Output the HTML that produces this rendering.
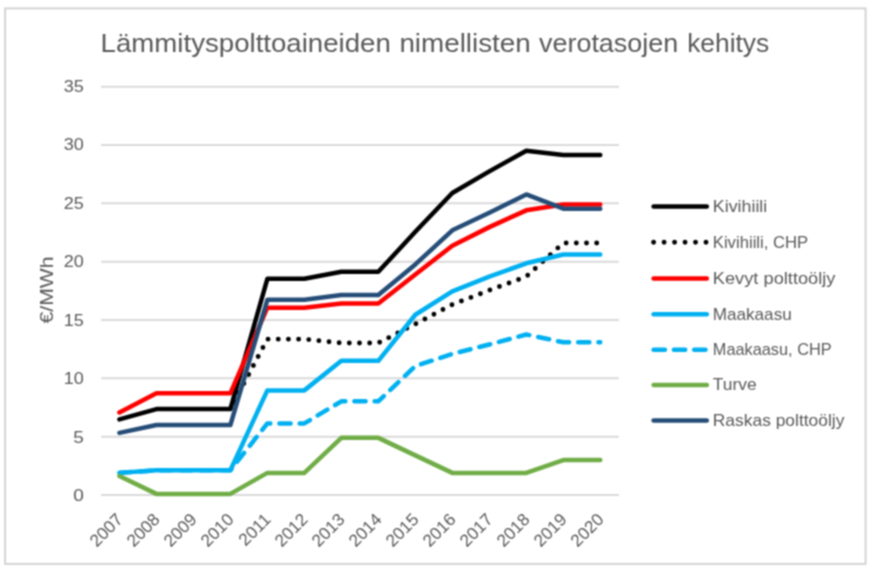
<!DOCTYPE html>
<html lang="fi"><head><meta charset="utf-8"><title>Lämmityspolttoaineiden nimellisten verotasojen kehitys</title>
<style>html,body{margin:0;padding:0;background:#fff}body{width:870px;height:570px;overflow:hidden}svg{display:block}text{font-family:"Liberation Sans",sans-serif;fill:#595959}</style></head><body>
<svg width="870" height="570" viewBox="0 0 870 570">
<defs><filter id="soft" x="0" y="0" width="870" height="570" filterUnits="userSpaceOnUse" color-interpolation-filters="sRGB"><feConvolveMatrix order="3" kernelMatrix="1 2 1 2 4 2 1 2 1" divisor="16" edgeMode="duplicate" preserveAlpha="true"/></filter></defs>
<g filter="url(#soft)">
<rect x="0" y="0" width="870" height="570" fill="#ffffff"/>
<rect x="5.1" y="8.4" width="860.5" height="555.5" fill="#ffffff" stroke="#d0d0d0" stroke-width="1.8"/>
<g stroke="#d9d9d9" stroke-width="2" fill="none">
<line x1="101.1" y1="495.05" x2="618.9" y2="495.05"/>
<line x1="101.1" y1="436.71" x2="618.9" y2="436.71"/>
<line x1="101.1" y1="378.36" x2="618.9" y2="378.36"/>
<line x1="101.1" y1="320.01" x2="618.9" y2="320.01"/>
<line x1="101.1" y1="261.67" x2="618.9" y2="261.67"/>
<line x1="101.1" y1="203.32" x2="618.9" y2="203.32"/>
<line x1="101.1" y1="144.98" x2="618.9" y2="144.98"/>
<line x1="101.1" y1="86.63" x2="618.9" y2="86.63"/>
</g>
<g font-size="25.2">
<text x="100.6" y="52.1" textLength="290.2" lengthAdjust="spacingAndGlyphs">Lämmityspolttoaineiden</text>
<text x="399.4" y="52.1" textLength="131.4" lengthAdjust="spacingAndGlyphs">nimellisten</text>
<text x="539" y="52.1" textLength="139.2" lengthAdjust="spacingAndGlyphs">verotasojen</text>
<text x="687.2" y="52.1" textLength="82.0" lengthAdjust="spacingAndGlyphs">kehitys</text>
</g>
<g font-size="17.2" text-anchor="end">
<text x="83.8" y="501.05" textLength="10.6" lengthAdjust="spacingAndGlyphs">0</text>
<text x="83.8" y="442.56" textLength="10.6" lengthAdjust="spacingAndGlyphs">5</text>
<text x="83.8" y="384.07" textLength="20.1" lengthAdjust="spacingAndGlyphs">10</text>
<text x="83.8" y="325.58" textLength="20.1" lengthAdjust="spacingAndGlyphs">15</text>
<text x="83.8" y="267.09" textLength="20.1" lengthAdjust="spacingAndGlyphs">20</text>
<text x="83.8" y="208.60" textLength="20.1" lengthAdjust="spacingAndGlyphs">25</text>
<text x="83.8" y="150.11" textLength="20.1" lengthAdjust="spacingAndGlyphs">30</text>
<text x="83.8" y="91.62" textLength="20.1" lengthAdjust="spacingAndGlyphs">35</text>
</g>
<text font-size="19" text-anchor="middle" transform="translate(53.4 290) rotate(-90)" textLength="67" lengthAdjust="spacingAndGlyphs">€/MWh</text>
<g font-size="17.2" text-anchor="end">
<text transform="translate(123.80 520.6) rotate(-45)">2007</text>
<text transform="translate(160.79 520.6) rotate(-45)">2008</text>
<text transform="translate(197.78 520.6) rotate(-45)">2009</text>
<text transform="translate(234.77 520.6) rotate(-45)">2010</text>
<text transform="translate(271.76 520.6) rotate(-45)">2011</text>
<text transform="translate(308.75 520.6) rotate(-45)">2012</text>
<text transform="translate(345.74 520.6) rotate(-45)">2013</text>
<text transform="translate(382.73 520.6) rotate(-45)">2014</text>
<text transform="translate(419.72 520.6) rotate(-45)">2015</text>
<text transform="translate(456.71 520.6) rotate(-45)">2016</text>
<text transform="translate(493.70 520.6) rotate(-45)">2017</text>
<text transform="translate(530.69 520.6) rotate(-45)">2018</text>
<text transform="translate(567.68 520.6) rotate(-45)">2019</text>
<text transform="translate(604.67 520.6) rotate(-45)">2020</text>
</g>
<g fill="none" stroke-width="4.5" stroke-linecap="round" stroke-linejoin="round">
<polyline points="119.40,419.43 156.39,409.05 193.38,409.05 230.37,409.05 267.36,278.82 304.35,278.82 341.34,271.82 378.33,271.82 415.32,231.80 452.31,192.94 489.30,171.35 526.29,150.70 563.28,155.02 600.27,155.02" stroke="#000000"/>
<polyline points="230.37,409.05 267.36,339.15 304.35,339.15 341.34,343.00 378.33,343.00 415.32,323.98 452.31,304.61 489.30,290.26 526.29,276.61 563.28,243.00 600.27,243.00" stroke="#000000" stroke-width="4.9" stroke-dasharray="0 10.18" stroke-dashoffset="1.65"/>
<polyline points="119.40,412.43 156.39,393.30 193.38,393.30 230.37,393.30 267.36,307.65 304.35,307.65 341.34,303.45 378.33,303.45 415.32,274.51 452.31,245.68 489.30,227.13 526.29,210.33 563.28,204.49 600.27,204.49" stroke="#FF0000"/>
<polyline points="119.40,472.88 156.39,470.31 193.38,470.31 230.37,470.31 267.36,390.38 304.35,390.38 341.34,360.86 378.33,360.86 415.32,314.76 452.31,291.31 489.30,276.61 526.29,263.30 563.28,254.44 600.27,254.44" stroke="#00B0F0"/>
<polyline points="119.40,472.88 156.39,470.31 193.38,470.31 230.37,470.31 267.36,423.40 304.35,423.40 341.34,401.35 378.33,401.35 415.32,366.11 452.31,353.86 489.30,344.52 526.29,334.48 563.28,342.30 600.27,342.30" stroke="#00B0F0" stroke-dasharray="11.2 9.065" stroke-dashoffset="-0.45"/>
<polyline points="119.40,476.03 156.39,493.88 193.38,493.88 230.37,493.88 267.36,472.88 304.35,472.88 341.34,437.87 378.33,437.87 415.32,455.38 452.31,472.88 489.30,472.88 526.29,472.88 563.28,460.04 600.27,460.04" stroke="#70AD47"/>
<polyline points="119.40,432.85 156.39,425.04 193.38,425.04 230.37,425.04 267.36,299.83 304.35,299.83 341.34,294.93 378.33,294.93 415.32,264.47 452.31,230.28 489.30,212.66 526.29,194.46 563.28,208.69 600.27,208.69" stroke="#264D77"/>
</g>
<g fill="none" stroke-width="4.5" stroke-linecap="round">
<line x1="653.6" y1="206.6" x2="706.8" y2="206.6" stroke="#000000"/>
<line x1="653.6" y1="242.2" x2="706.8" y2="242.2" stroke="#000000" stroke-width="4.9" stroke-dasharray="0 10.48"/>
<line x1="653.6" y1="278.6" x2="706.8" y2="278.6" stroke="#FF0000"/>
<line x1="653.6" y1="314.2" x2="706.8" y2="314.2" stroke="#00B0F0"/>
<line x1="653.6" y1="349.7" x2="706.8" y2="349.7" stroke="#00B0F0" stroke-dasharray="11.3 9.0"/>
<line x1="653.6" y1="385.1" x2="706.8" y2="385.1" stroke="#70AD47"/>
<line x1="653.6" y1="420.4" x2="706.8" y2="420.4" stroke="#264D77"/>
</g>
<g font-size="16.6">
<text x="712.8" y="211.9" textLength="54.5" lengthAdjust="spacingAndGlyphs">Kivihiili</text>
<text x="712.8" y="247.5" textLength="95.4" lengthAdjust="spacingAndGlyphs">Kivihiili, CHP</text>
<text x="712.8" y="283.9" textLength="122.7" lengthAdjust="spacingAndGlyphs">Kevyt polttoöljy</text>
<text x="712.8" y="319.5" textLength="78.9" lengthAdjust="spacingAndGlyphs">Maakaasu</text>
<text x="712.8" y="355.0" textLength="118.8" lengthAdjust="spacingAndGlyphs">Maakaasu, CHP</text>
<text x="712.8" y="390.4" textLength="43.8" lengthAdjust="spacingAndGlyphs">Turve</text>
<text x="712.8" y="425.7" textLength="131.6" lengthAdjust="spacingAndGlyphs">Raskas polttoöljy</text>
</g>
</g></svg></body></html>
